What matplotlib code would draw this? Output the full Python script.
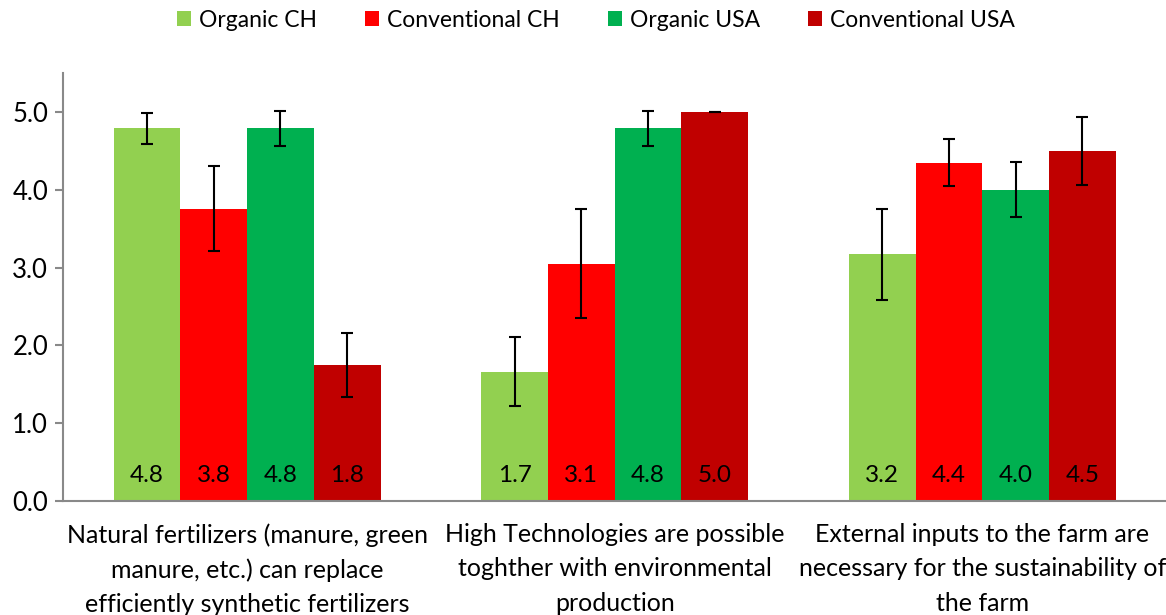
import numpy as np
import matplotlib.pyplot as plt
from matplotlib.patches import Patch

plt.rcParams['font.family'] = ['Lato', 'DejaVu Sans']

# data
categories = ['Natural fertilizers (manure, green\nmanure, etc.) can replace\nefficiently synthetic fertilizers',
              'High Technologies are possible\ntoghther with environmental\nproduction',
              'External inputs to the farm are\nnecessary for the sustainability of\nthe farm']
series = ['Organic CH', 'Conventional CH', 'Organic USA', 'Conventional USA']
organic_ch = [4.79, 1.66, 3.17]
conventional_ch = [3.76, 3.05, 4.35]
organic_usa = [4.79, 4.79, 4.0]
conventional_usa = [1.75, 5.0, 4.5]
err_organic_ch = [0.205, 0.445, 0.585]
err_conventional_ch = [0.55, 0.70, 0.30]
err_organic_usa = [0.225, 0.22, 0.355]
err_conventional_usa = [0.41, 0.0, 0.435]
labels_organic_ch = ['4.8', '1.7', '3.2']
labels_conventional_ch = ['3.8', '3.1', '4.4']
labels_organic_usa = ['4.8', '4.8', '4.0']
labels_conventional_usa = ['1.8', '5.0', '4.5']

colors = ['#92D050', '#FF0000', '#00B050', '#C00000']
values = [organic_ch, conventional_ch, organic_usa, conventional_usa]
errors = [err_organic_ch, err_conventional_ch, err_organic_usa, err_conventional_usa]
labels = [labels_organic_ch, labels_conventional_ch, labels_organic_usa, labels_conventional_usa]

w = 0.1815
x = np.arange(len(categories))

fig = plt.figure(figsize=(11.66, 6.15), dpi=100)
ax = fig.add_axes([0.0543, 0.1858, 0.9457, 0.695])

for i in range(4):
    pos = x + (i - 1.5) * w
    ax.bar(pos, values[i], w, color=colors[i], edgecolor='none', zorder=2)
    ax.errorbar(pos, values[i], yerr=errors[i], fmt='none', ecolor='black',
                elinewidth=1.5, capsize=4.5, capthick=1.5, zorder=3)
    for p, t in zip(pos, labels[i]):
        ax.text(p, 0.33, t, ha='center', va='center', fontsize=17.5, color='black', zorder=4)

ax.set_xlim(-0.5, 2.5)
ax.set_ylim(0, 5.5)
ax.set_yticks(np.arange(0, 5.5, 1.0))
ax.set_yticklabels(['%.1f' % v for v in np.arange(0, 5.5, 1.0)], fontsize=18.5)
ax.set_xticks(x)
ax.set_xticklabels(categories, fontsize=18, linespacing=1.6)
ax.tick_params(axis='x', length=0, pad=16)
ax.tick_params(axis='y', length=6, width=1.5, color='#898989', pad=5)
for s in ['top', 'right']:
    ax.spines[s].set_visible(False)
for s in ['left', 'bottom']:
    ax.spines[s].set_color('#898989')
    ax.spines[s].set_linewidth(1.5)

handles = [Patch(facecolor=c, label=s) for c, s in zip(colors, series)]
fig.legend(handles=handles, loc='upper center', bbox_to_anchor=(0.511, 1.018), ncol=4,
           frameon=False, fontsize=16.5, handlelength=0.6, handleheight=0.6,
           handletextpad=0.35, columnspacing=2.1)

fig.savefig('out.png', dpi=100)
